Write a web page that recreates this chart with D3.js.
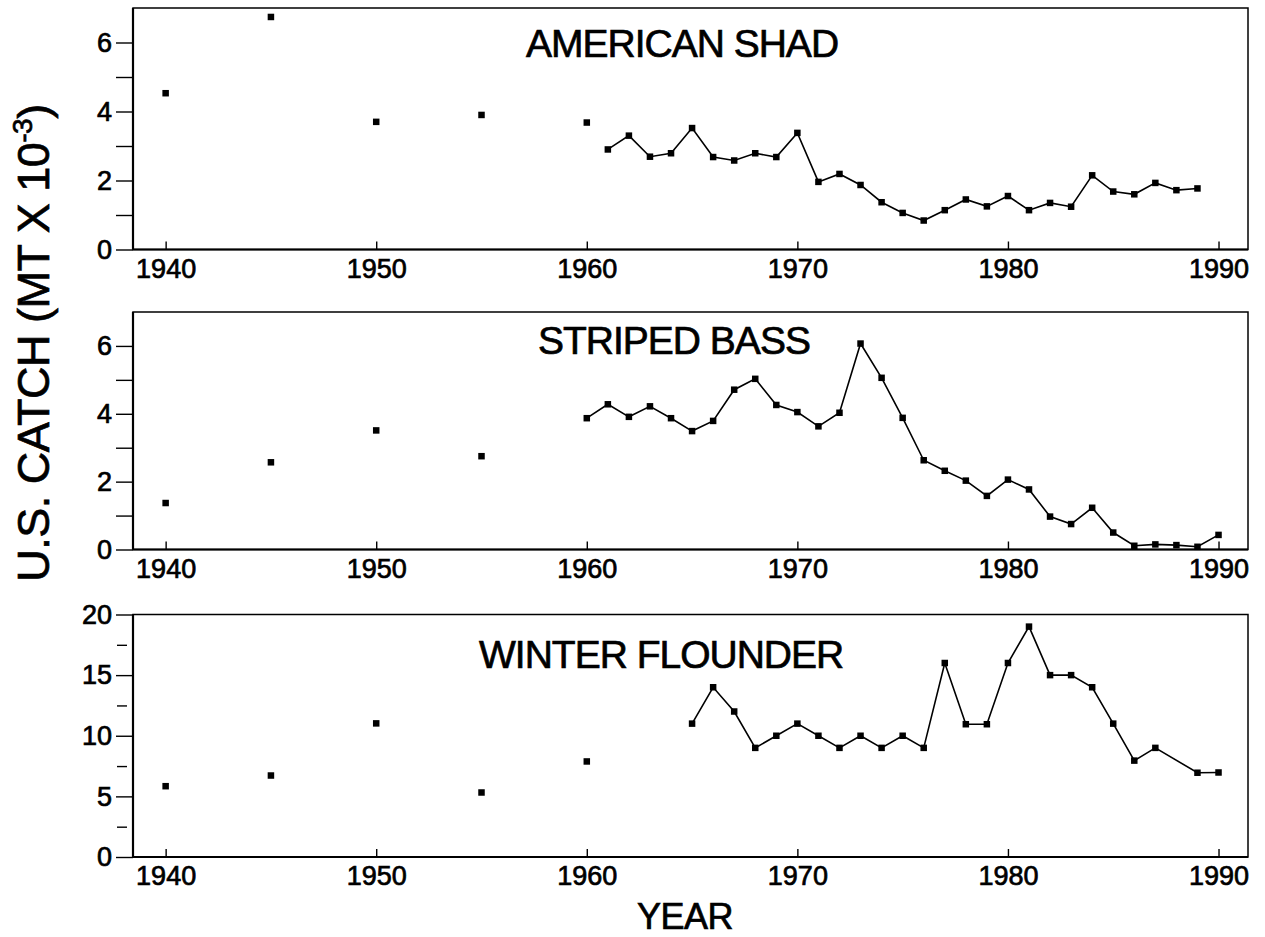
<!DOCTYPE html>
<html>
<head>
<meta charset="utf-8">
<script src="https://cdn.jsdelivr.net/npm/d3@7"></script>
<style>
  html, body { margin: 0; padding: 0; background: #fff; }
  svg { display: block; }
  text { font-family: "Liberation Sans", Arial, Helvetica, sans-serif; fill: #000; }
</style>
</head>
<body>
<svg id="chart" width="1265" height="937"></svg>
<script>
// ---------------- DATA ----------------
const decadeTicks = [1940, 1950, 1960, 1970, 1980, 1990];

// American shad
const shadTitle = "AMERICAN SHAD";
const shadEarlyYears = [1940, 1945, 1950, 1955, 1960];
const shadEarlyValues = [4.53, 6.74, 3.70, 3.90, 3.68];
const shadYears = [1961, 1962, 1963, 1964, 1965, 1966, 1967, 1968, 1969, 1970,
                   1971, 1972, 1973, 1974, 1975, 1976, 1977, 1978, 1979, 1980,
                   1981, 1982, 1983, 1984, 1985, 1986, 1987, 1988, 1989];
const shadValues = [2.90, 3.30, 2.69, 2.79, 3.52, 2.68, 2.58, 2.79, 2.68, 3.38,
                    1.96, 2.19, 1.87, 1.37, 1.06, 0.84, 1.14, 1.45, 1.25, 1.55,
                    1.14, 1.35, 1.24, 2.15, 1.68, 1.60, 1.93, 1.72, 1.77];
const shadMajorTicks = [0, 2, 4, 6];
const shadMinorTicks = [1, 3, 5];

// Striped bass
const bassTitle = "STRIPED BASS";
const bassEarlyYears = [1940, 1945, 1950, 1955];
const bassEarlyValues = [1.37, 2.57, 3.51, 2.75];
const bassYears = [1960, 1961, 1962, 1963, 1964, 1965, 1966, 1967, 1968, 1969,
                   1970, 1971, 1972, 1973, 1974, 1975, 1976, 1977, 1978, 1979,
                   1980, 1981, 1982, 1983, 1984, 1985, 1986, 1987, 1988, 1989, 1990];
const bassValues = [3.87, 4.28, 3.91, 4.22, 3.87, 3.49, 3.79, 4.71, 5.03, 4.26,
                    4.05, 3.63, 4.03, 6.07, 5.06, 3.88, 2.63, 2.32, 2.03, 1.58,
                    2.06, 1.77, 0.97, 0.75, 1.23, 0.50, 0.11, 0.15, 0.13, 0.08, 0.43];
const bassMajorTicks = [0, 2, 4, 6];
const bassMinorTicks = [1, 3, 5];

// Winter flounder
const flounderTitle = "WINTER FLOUNDER";
const flounderEarlyYears = [1940, 1945, 1950, 1955, 1960];
const flounderEarlyValues = [5.84, 6.72, 11.02, 5.32, 7.88];
const flounderYears = [1965, 1966, 1967, 1968, 1969, 1970, 1971, 1972, 1973, 1974,
                       1975, 1976, 1977, 1978, 1979, 1980, 1981, 1982, 1983, 1984,
                       1985, 1986, 1987, 1989, 1990];
const flounderValues = [11.0, 14.0, 12.0, 9.0, 10.0, 11.0, 10.0, 9.0, 10.0, 9.0,
                        10.0, 9.0, 16.0, 10.95, 10.95, 16.0, 19.0, 15.0, 15.0, 14.0,
                        11.0, 7.95, 9.0, 6.95, 6.97];
const flounderMajorTicks = [0, 5, 10, 15, 20];
const flounderMinorTicks = [2.5, 7.5, 12.5, 17.5];

const xAxisTitle = "YEAR";
const yAxisTitleMain = "U.S. CATCH (MT X 10";
const yAxisTitleSup = "-3";
const yAxisTitleEnd = ")";

// ---------------- LAYOUT ----------------
const svg = d3.select("#chart");
const left = 133, right = 1248;
const x = d3.scaleLinear().domain([1938.45, 1991.4]).range([left, right]);

const panels = [
  { title: shadTitle, ey: shadEarlyYears, ev: shadEarlyValues, yrs: shadYears, vals: shadValues,
    yMax: 7, major: shadMajorTicks, minor: shadMinorTicks, top: 8, bottom: 249.5,
    titleX: 526, titleY: 57, minorDetached: false },
  { title: bassTitle, ey: bassEarlyYears, ev: bassEarlyValues, yrs: bassYears, vals: bassValues,
    yMax: 7, major: bassMajorTicks, minor: bassMinorTicks, top: 312, bottom: 549.5,
    titleX: 538, titleY: 354, minorDetached: false },
  { title: flounderTitle, ey: flounderEarlyYears, ev: flounderEarlyValues, yrs: flounderYears, vals: flounderValues,
    yMax: 20, major: flounderMajorTicks, minor: flounderMinorTicks, top: 614.5, bottom: 857,
    titleX: 479, titleY: 668, minorDetached: true }
];

const markerSize = 6.5;
const textStroke = 0.7;

function styleText(sel, size) {
  sel.attr("font-size", size).attr("fill", "#000")
    .attr("stroke", "#000").attr("stroke-width", textStroke)
    .style("font-family", '"Liberation Sans", Arial, sans-serif');
}

panels.forEach(p => {
  const y = d3.scaleLinear().domain([0, p.yMax]).range([p.bottom, p.top]);
  const g = svg.append("g");

  // frame
  g.append("rect")
    .attr("x", left).attr("y", p.top)
    .attr("width", right - left).attr("height", p.bottom - p.top)
    .attr("fill", "none").attr("stroke", "#000").attr("stroke-width", 1.5);
  // heavier left & bottom axis lines
  g.append("line").attr("x1", left).attr("x2", left).attr("y1", p.top).attr("y2", p.bottom)
    .attr("stroke", "#000").attr("stroke-width", 2.2);
  g.append("line").attr("x1", left).attr("x2", right).attr("y1", p.bottom).attr("y2", p.bottom)
    .attr("stroke", "#000").attr("stroke-width", 2.2);

  // x axis (ticks pointing inward)
  const xAxis = d3.axisBottom(x).tickValues(decadeTicks).tickFormat(d3.format("d"))
    .tickSizeInner(-8).tickSizeOuter(0).tickPadding(9);
  const gx = g.append("g").attr("transform", `translate(0,${p.bottom})`).call(xAxis);
  gx.select(".domain").remove();
  gx.selectAll(".tick line").attr("stroke", "#000").attr("stroke-width", 1.4);
  styleText(gx.selectAll(".tick text"), 27);

  // y axis major
  const yAxis = d3.axisLeft(y).tickValues(p.major).tickFormat(d3.format("d"))
    .tickSizeInner(17).tickSizeOuter(0).tickPadding(4);
  const gy = g.append("g").attr("transform", `translate(${left},0)`).call(yAxis);
  gy.select(".domain").remove();
  gy.selectAll(".tick line").attr("stroke", "#000").attr("stroke-width", 1.4);
  styleText(gy.selectAll(".tick text"), 27);

  // y axis minor
  const yMinor = d3.axisLeft(y).tickValues(p.minor).tickFormat("")
    .tickSizeInner(p.minorDetached ? 10 : 17).tickSizeOuter(0);
  const gm = g.append("g")
    .attr("transform", `translate(${p.minorDetached ? left - 6 : left},0)`).call(yMinor);
  gm.select(".domain").remove();
  gm.selectAll(".tick line").attr("stroke", "#000").attr("stroke-width", 1.4);

  // title
  const t = g.append("text").attr("x", p.titleX).attr("y", p.titleY)
    .attr("letter-spacing", -1).text(p.title);
  styleText(t, 39);

  // annual line
  const line = d3.line().x((d, i) => x(p.yrs[i])).y(d => y(d));
  g.append("path").datum(p.vals).attr("d", line)
    .attr("fill", "none").attr("stroke", "#000").attr("stroke-width", 1.6);

  // markers: annual
  g.selectAll("rect.ann").data(p.vals).enter().append("rect").attr("class", "ann")
    .attr("x", (d, i) => x(p.yrs[i]) - markerSize / 2)
    .attr("y", d => y(d) - markerSize / 2)
    .attr("width", markerSize).attr("height", markerSize).attr("fill", "#000");

  // markers: five-year early points
  g.selectAll("rect.early").data(p.ev).enter().append("rect").attr("class", "early")
    .attr("x", (d, i) => x(p.ey[i]) - markerSize / 2)
    .attr("y", d => y(d) - markerSize / 2)
    .attr("width", markerSize).attr("height", markerSize).attr("fill", "#000");
});

// axis titles
const xt = svg.append("text").attr("x", 685).attr("y", 929).attr("text-anchor", "middle")
  .attr("letter-spacing", -0.5).text(xAxisTitle);
styleText(xt, 36);

const yt = svg.append("text")
  .attr("transform", "translate(49,343) rotate(-90)")
  .attr("text-anchor", "middle").attr("letter-spacing", -0.5);
styleText(yt, 45);
yt.append("tspan").text(yAxisTitleMain);
yt.append("tspan").attr("font-size", 28).attr("dy", -17).text(yAxisTitleSup);
yt.append("tspan").attr("dy", 17).text(yAxisTitleEnd);
</script>
</body>
</html>
